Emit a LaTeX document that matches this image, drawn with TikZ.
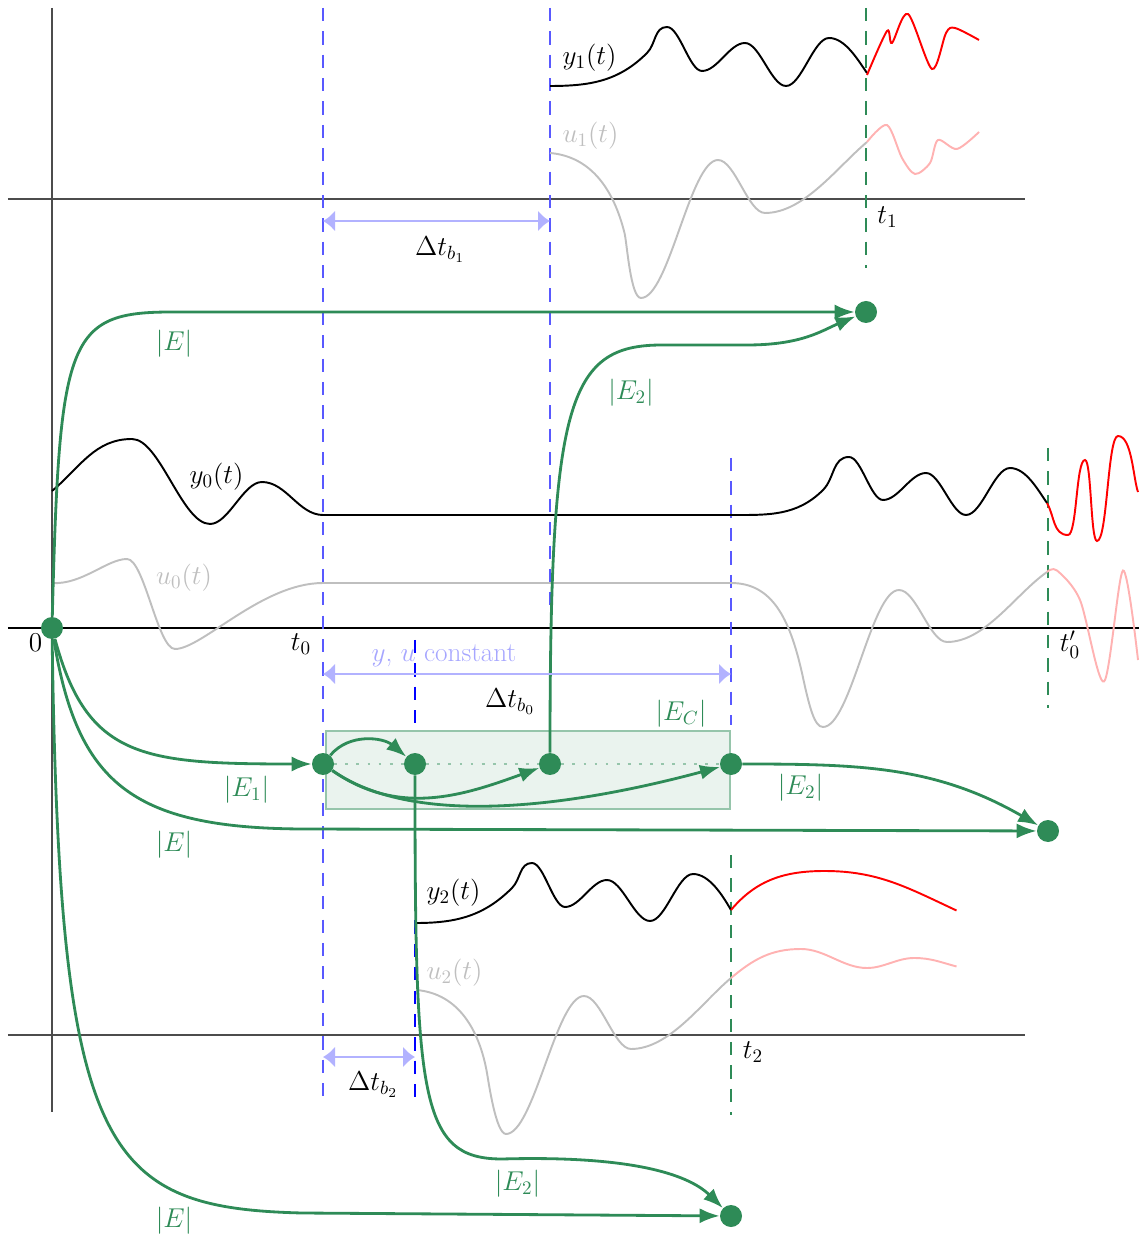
\RequirePackage{fix-cm}
\documentclass[tikz,border=0pt]{standalone}
\usepackage{amsmath}
\usetikzlibrary{arrows.meta}
\definecolor{seagreen}{RGB}{46,139,87}

\begin{document}
\begin{tikzpicture}[
  font=\fontsize{15.5}{18.6}\selectfont,
  axis/.style={black!70,line width=0.7pt},
  vdash/.style={blue!65,line width=1.1pt,dash pattern=on 7.5pt off 5.8pt},
  tdash/.style={seagreen,line width=0.7pt,dash pattern=on 7.5pt off 5.8pt},
  sig/.style={black,line width=1.1pt},
  inp/.style={black!25,line width=1.1pt},
  sigx/.style={red,line width=1.1pt},
  inpx/.style={red!30,line width=1.1pt},
  wv/.style={out=0,in=180,looseness=#1},
  edot/.style={circle,fill=seagreen,inner sep=0pt,minimum size=4.4mm},
  flow/.style={seagreen,line width=1.6pt,-{Latex[length=4mm,width=3mm]}},
  lbl/.style={text=seagreen},
  dimarr/.style={blue!30,line width=1.3pt,{Latex[length=2.4mm,width=4.2mm]}-{Latex[length=2.4mm,width=4.2mm]}},
]
 \useasboundingbox (-1.04,-12.18) rectangle (21.74,12.56);
 % axes
 \draw[axis] (0,12.4) -- (0,-9.68);
 \draw[axis] (-0.88,8.58) -- (19.46,8.58);
 \draw[axis,black,line width=0.6pt] (-0.88,0) -- (21.74,0);
 \draw[axis] (-0.88,-8.14) -- (19.46,-8.14);
 % break times
 \draw[vdash] (5.42,12.4) -- (5.42,-9.54);
 \draw[vdash] (9.96,12.4) -- (9.96,0.3);
 \draw[vdash] (13.58,3.4) -- (13.58,-1.94);
 \draw[vdash,blue,line width=0.6pt] (7.26,-0.24) -- (7.26,-9.54);
 \draw[tdash] (16.28,12.4) -- (16.28,7.2);
 \draw[tdash] (13.58,-4.54) -- (13.58,-9.74);
 \draw[tdash] (19.92,3.6) -- (19.92,-1.6);
 % constant window
 \draw[seagreen!50,line width=1.4pt,fill=seagreen!10] (5.48,-2.06) rectangle (13.56,-3.62);
 % y_0 and u_0
 \draw[sig] (0,2.74) to[out=40,in=180] (1.6,3.78) to[wv=0.62] (3.16,2.08) to[wv=0.71] (4.2,2.92)
   to[wv=0.9] (5.42,2.26) -- (13.58,2.26) to[out=0,in=225] (15.42,2.76) to[out=45,in=180] (15.94,3.42)
   to[wv=0.57] (16.62,2.56) to[wv=0.78] (17.48,3.1) to[wv=0.63] (18.28,2.26)
   to[wv=0.63] (19.16,3.2) to[out=0,in=125,looseness=0.8] (19.9,2.5);
 \draw[sigx] (19.9,2.5) to[out=-60,in=180] (20.32,1.86) to[wv=0.3] (20.66,3.36)
   to[wv=0.2] (20.9,1.74) to[wv=0.25] (21.32,3.84) to[out=0,in=110,looseness=0.6] (21.72,2.72);
 \draw[inp] (0,0.9) .. controls (0.6,0.86) and (1.1,1.38) .. (1.5,1.38) to[wv=0.43] (2.46,-0.42)
   .. controls (3.0,-0.42) and (4.2,0.9) .. (5.42,0.9) -- (13.58,0.9)
   .. controls (14.4,0.9) and (14.75,0.2) .. (15.0,-0.9) .. controls (15.15,-1.6) and (15.25,-1.98) .. (15.42,-1.98)
   to[wv=0.45] (16.94,0.76) to[wv=0.63] (17.9,-0.28) to[out=0,in=215,looseness=0.8] (19.9,1.12);
 \draw[inpx] plot[smooth] coordinates {(19.9,1.12) (20.1,1.15) (20.56,0.56) (21.04,-1.07) (21.42,1.15) (21.72,-0.64)};
 % y_1 and u_1
 \draw[sig] (9.96,10.84) to[out=0,in=225] (11.9,11.5) to[out=45,in=180] (12.3,12.02) to[wv=0.57] (13.0,11.14)
   to[wv=0.77] (13.86,11.7) to[wv=0.63] (14.68,10.84) to[wv=0.61] (15.54,11.8) to[out=0,in=125,looseness=0.8] (16.3,11.1);
 \draw[sigx] plot[smooth,tension=0.5] coordinates {(16.3,11.06) (16.7,11.94) (16.8,11.7) (17.12,12.28) (17.6,11.18) (17.88,11.9) (18.06,12.0) (18.54,11.76)};
 \draw[inp] (9.96,9.5) to[out=-5,in=104] (11.45,7.9) to[out=-76,in=180,looseness=0.4] (11.78,6.6) to[wv=0.45] (13.32,9.36)
   to[wv=0.61] (14.26,8.3) to[out=0,in=220,looseness=0.8] (16.3,9.72);
 \draw[inpx] plot[smooth] coordinates {(16.3,9.72) (16.7,10.06) (17.0,9.4) (17.26,9.08) (17.56,9.3) (17.72,9.76) (18.1,9.58) (18.54,9.92)};
 % y_2 and u_2
 \draw[sig] (7.28,-5.9) to[out=0,in=225] (9.2,-5.2) to[out=45,in=180] (9.6,-4.7) to[wv=0.55] (10.26,-5.58)
   to[wv=0.77] (11.1,-5.04) to[wv=0.66] (11.96,-5.86) to[wv=0.62] (12.82,-4.92) to[out=0,in=120,looseness=0.8] (13.58,-5.64);
 \draw[sigx] (13.58,-5.64) to[out=50,in=180] (15.45,-4.86) to[out=0,in=155] (18.09,-5.65);
 \draw[inp] (7.29,-7.24) to[out=-5,in=100] (8.7,-8.9) to[out=-80,in=180,looseness=0.4] (9.08,-10.12) to[wv=0.45] (10.64,-7.36)
   to[wv=0.61] (11.58,-8.42) to[out=0,in=220,looseness=0.8] (13.58,-7.0);
 \draw[inpx] (13.58,-7.0) to[out=40,in=180] (14.98,-6.42) to[wv=0.89] (16.3,-6.8) to[wv=0.9] (17.24,-6.6)
   to[out=0,in=165] (18.09,-6.77);
 % states
 \node[edot] (st) at (0,0) {};
 \node[edot] (e1) at (16.28,6.32) {};
 \node[edot] (b0) at (5.42,-2.72) {};
 \node[edot] (b2) at (7.26,-2.72) {};
 \node[edot] (b1) at (9.96,-2.72) {};
 \node[edot] (c0) at (13.58,-2.72) {};
 \node[edot] (e0) at (19.92,-4.06) {};
 \node[edot] (e2) at (13.58,-11.76) {};
 \draw[seagreen!50,line width=1.6pt,dash pattern=on 1.6pt off 4.7pt] (b0) -- (b2) -- (b1) -- (c0);
 % energy paths
 \draw[flow] (st) .. controls (0.15,5.8) and (0.3,6.32) .. (2.4,6.32) -- (e1);
 \draw[flow] (b1) .. controls (9.96,4.5) and (10.3,5.66) .. (12.2,5.66) -- (13.9,5.66) .. controls (15,5.66) and (15.4,5.95) .. (e1);
 \draw[flow] (st) .. controls (0.7,-2.6) and (1.8,-2.72) .. (b0);
 \draw[flow] (st) .. controls (0.5,-3.1) and (1.6,-4.0) .. (5,-4.02) -- (e0);
 \draw[flow] (st) .. controls (0.15,-10.5) and (1.0,-11.6) .. (5,-11.7) -- (e2);
 \draw[flow] (b0) to[out=50,in=140] (b2);
 \draw[flow] (b0) to[out=-35,in=200] (b1);
 \draw[flow] (b0) to[out=-35,in=195,looseness=0.75] (c0);
 \draw[flow] (c0) to[out=0,in=150] (e0);
 \draw[flow] (b2) .. controls (7.26,-9.4) and (7.35,-10.62) .. (9,-10.62) .. controls (11.5,-10.55) and (12.7,-10.9) .. (e2);
 % durations
 \coordinate (d1l) at (5.42,8.14);
 \coordinate (d1r) at (9.96,8.14);
 \coordinate (d0l) at (5.42,-0.92);
 \coordinate (d0r) at (13.58,-0.92);
 \coordinate (d2l) at (5.42,-8.58);
 \coordinate (d2r) at (7.26,-8.58);
 \draw[dimarr] (d1l) -- (d1r);
 \draw[dimarr] (d0l) -- (d0r);
 \draw[dimarr] (d2l) -- (d2r);
 \node (ld1) at (7.76,7.56) {$\Delta t_{b_1}$};
 \node[text=blue!35] (lcst) at (7.84,-0.56) {$y$, $u$ constant};
 \node (ld0) at (9.16,-1.48) {$\Delta t_{b_0}$};
 \node (ld2) at (6.42,-9.14) {$\Delta t_{b_2}$};
 % time marks
 \node (l0) at (-0.33,-0.3) {$0$};
 \node (lt0) at (4.98,-0.32) {$t_0$};
 \node (lt1) at (16.71,8.22) {$t_1$};
 \node (lt2) at (14.02,-8.48) {$t_2$};
 \node (lt0p) at (20.36,-0.34) {$t_0'$};
 % signal names
 \node (ly1) at (10.75,11.41) {$y_1(t)$};
 \node[text=black!25] (lu1) at (10.77,9.85) {$u_1(t)$};
 \node (ly0) at (3.29,3.03) {$y_0(t)$};
 \node[text=black!25] (lu0) at (2.64,1.01) {$u_0(t)$};
 \node (ly2) at (8.03,-5.29) {$y_2(t)$};
 \node[text=black!25] (lu2) at (8.05,-6.89) {$u_2(t)$};
 % energy names
 \node[lbl] (lEa) at (2.44,5.68) {$|E|$};
 \node[lbl] (lE2a) at (11.58,4.71) {$|E_2|$};
 \node[lbl] (lE1) at (3.89,-3.23) {$|E_1|$};
 \node[lbl] (lEb) at (2.44,-4.34) {$|E|$};
 \node[lbl] (lEc) at (2.44,-11.86) {$|E|$};
 \node[lbl] (lE2b) at (14.97,-3.19) {$|E_2|$};
 \node[lbl] (lE2c) at (9.31,-11.12) {$|E_2|$};
 \node[lbl] (lEC) at (12.58,-1.72) {$|E_C|$};
\end{tikzpicture}
\end{document}
